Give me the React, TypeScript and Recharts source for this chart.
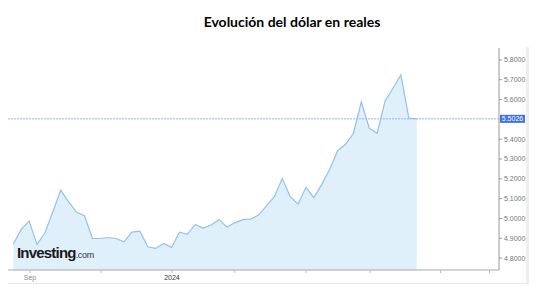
import React from 'react';
import { ComposedChart, Area, XAxis, YAxis, ReferenceLine } from 'recharts';

// Weekly USD/BRL closes
const usdBrl: number[] = [
  4.871, 4.945, 4.987, 4.869, 4.928, 5.034, 5.143, 5.084, 5.031, 5.014,
  4.899, 4.899, 4.904, 4.899, 4.882, 4.931, 4.936, 4.857, 4.849, 4.874,
  4.854, 4.931, 4.920, 4.970, 4.952, 4.967, 4.994, 4.957, 4.978, 4.994,
  4.997, 5.017, 5.063, 5.110, 5.202, 5.110, 5.073, 5.157, 5.105, 5.172,
  5.248, 5.342, 5.374, 5.430, 5.589, 5.455, 5.430, 5.593, 5.657, 5.724,
  5.506, 5.5026,
];
const lastValue = 5.5026;
const yTicks: number[] = [4.8, 4.9, 5.0, 5.1, 5.2, 5.3, 5.4, 5.5, 5.6, 5.7, 5.8];
const xTickPositions: number[] = [2.11, 11.09, 20.06, 28.0, 37.0, 45.1, 54.0, 60.2];
const xTickLabels: string[] = ['Sep', '', '2024', '', '', '', '', ''];
const title = 'Evolución del dólar en reales';

const data = usdBrl.map((v, i) => ({ week: i, price: v }));

const XTick = (props: any) => {
  const { x, y, payload } = props;
  const idx = xTickPositions.indexOf(payload.value);
  const label = idx >= 0 ? xTickLabels[idx] : '';
  return (
    <text
      x={x}
      y={y + 5}
      textAnchor="middle"
      fontSize={7}
      fontFamily="Liberation Sans, Arial, sans-serif"
      fill={label === '2024' ? '#333' : '#888'}
    >
      {label}
    </text>
  );
};

const LastLabel = (props: any) => {
  const vb = props.viewBox || {};
  const x = (vb.x ?? 0) + (vb.width ?? 0) + 1;
  const y = vb.y ?? 0;
  return (
    <g>
      <rect x={x} y={y - 4} width={25} height={8} fill="#3f6fdc" />
      <text
        x={x + 12.5}
        y={y + 2.5}
        textAnchor="middle"
        fontSize={7}
        fontFamily="Liberation Sans, Arial, sans-serif"
        fill="#ffffff"
      >
        {lastValue.toFixed(4)}
      </text>
    </g>
  );
};

export default function App() {
  return (
    <div style={{ position: 'absolute', left: 0, top: 0, width: 557, height: 298, background: '#fff' }}>
      <div
        style={{
          position: 'absolute',
          left: 142,
          top: 13,
          width: 300,
          textAlign: 'center',
          fontFamily: 'Lato, sans-serif',
          fontWeight: 'bold',
          fontSize: 14,
          color: '#000',
          whiteSpace: 'nowrap',
        }}
      >
        {title}
      </div>
      <div style={{ position: 'absolute', left: 526, top: 47, width: 3, height: 237, background: '#eeeeee' }} />
      <div style={{ position: 'absolute', left: 8, top: 283, width: 520, height: 1, background: '#e8e8e8' }} />
      <div style={{ position: 'absolute', left: 0, top: 0 }}>
        <ComposedChart
          width={557}
          height={298}
          data={data}
          margin={{ top: 48, right: 8, bottom: 15, left: 8 }}
        >
          <XAxis
            dataKey="week"
            type="number"
            domain={[-0.67, 61.4]}
            ticks={xTickPositions}
            allowDataOverflow
            axisLine={{ stroke: '#aaaaaa' }}
            tickLine={{ stroke: '#bbbbbb' }}
            tickSize={3}
            height={13}
            tick={<XTick />}
            interval={0}
          />
          <YAxis
            orientation="right"
            type="number"
            domain={[4.74, 5.86]}
            ticks={yTicks.filter((t) => Math.abs(t - 5.5) > 0.01)}
            allowDataOverflow
            width={50}
            axisLine={{ stroke: '#999999' }}
            tickLine={{ stroke: '#999999' }}
            tickSize={3}
            tickMargin={2}
            tickFormatter={(v: number) => v.toFixed(4)}
            tick={{ fontSize: 7, fill: '#777', fontFamily: 'Liberation Sans, Arial, sans-serif' }}
            interval={0}
          />
          <Area
            type="linear"
            dataKey="price"
            stroke="#94c1ea"
            strokeWidth={1.2}
            fill="#dff0fb"
            fillOpacity={1}
            baseValue={4.74}
            isAnimationActive={false}
            dot={false}
            activeDot={false}
          />
          <ReferenceLine
            y={lastValue}
            stroke="#9db4ee"
            strokeDasharray="2 1"
            strokeWidth={1}
            label={(p: any) => <LastLabel {...p} />}
          />
        </ComposedChart>
      </div>
      <div
        style={{
          position: 'absolute',
          left: 17,
          top: 245,
          fontFamily: 'Liberation Sans, Arial, sans-serif',
          whiteSpace: 'nowrap',
          lineHeight: '16px',
        }}
      >
        <span style={{ fontWeight: 'bold', fontSize: 15, letterSpacing: -0.8, color: '#1a1a1a' }}>Investing</span>
        <span style={{ fontSize: 9, color: '#333', letterSpacing: -0.3 }}>.com</span>
      </div>
    </div>
  );
}
